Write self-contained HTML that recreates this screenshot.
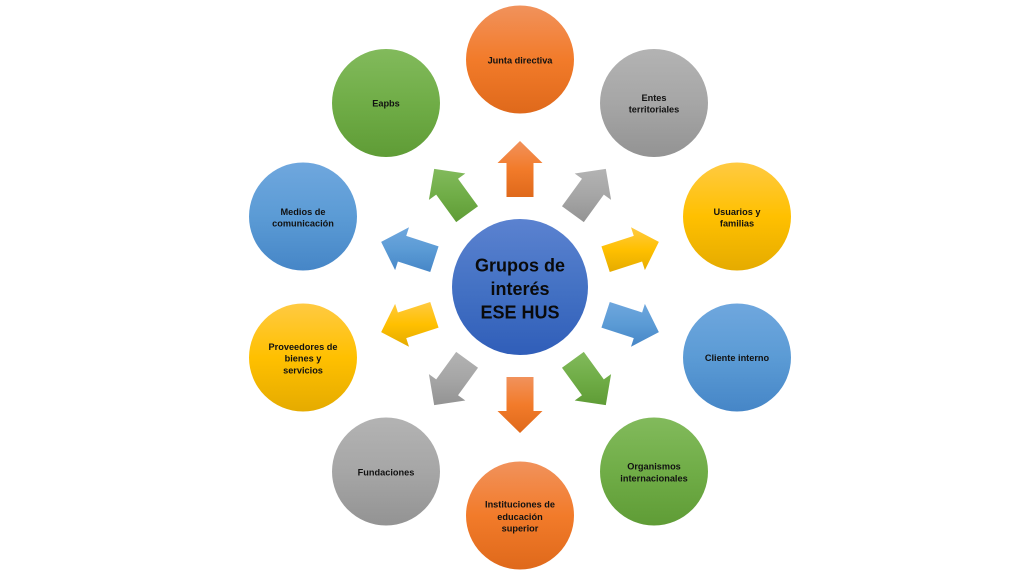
<!DOCTYPE html>
<html><head><meta charset="utf-8"><style>
html,body{margin:0;padding:0;background:#fff;}
svg{display:block;}
text{font-family:"Liberation Sans",sans-serif;font-weight:bold;fill:#111;text-anchor:middle;}
.s{font-size:9.2px;}
.b{font-size:18px;fill:#0a0a0a;}
</style></head><body>
<svg width="1024" height="576" viewBox="0 0 1024 576" xmlns="http://www.w3.org/2000/svg">
<defs>
<linearGradient id="go" x1="0" y1="0" x2="0" y2="1"><stop offset="0" stop-color="#f1925c"/><stop offset="0.5" stop-color="#f27b2a"/><stop offset="1" stop-color="#df691b"/></linearGradient>
<linearGradient id="gg" x1="0" y1="0" x2="0" y2="1"><stop offset="0" stop-color="#b3b3b3"/><stop offset="0.5" stop-color="#a6a6a6"/><stop offset="1" stop-color="#939393"/></linearGradient>
<linearGradient id="gy" x1="0" y1="0" x2="0" y2="1"><stop offset="0" stop-color="#ffca42"/><stop offset="0.5" stop-color="#ffc000"/><stop offset="1" stop-color="#e5ab00"/></linearGradient>
<linearGradient id="gb" x1="0" y1="0" x2="0" y2="1"><stop offset="0" stop-color="#6fa7de"/><stop offset="0.5" stop-color="#5b9bd5"/><stop offset="1" stop-color="#4686c7"/></linearGradient>
<linearGradient id="gn" x1="0" y1="0" x2="0" y2="1"><stop offset="0" stop-color="#82ba5c"/><stop offset="0.5" stop-color="#70ad47"/><stop offset="1" stop-color="#5f9c36"/></linearGradient>
<linearGradient id="gc" x1="0" y1="0" x2="0" y2="1"><stop offset="0" stop-color="#5b82d0"/><stop offset="0.5" stop-color="#4472c4"/><stop offset="1" stop-color="#305eb9"/></linearGradient>
</defs>

<!-- arrows -->
<polygon fill="url(#go)" points="506.5,197 506.5,163 497.5,163 520,141 542.5,163 533.5,163 533.5,197"/>
<polygon fill="url(#gg)" points="561.98,206.25 581.97,178.74 574.69,173.45 605.82,168.89 611.09,199.91 603.81,194.62 583.82,222.13"/>
<polygon fill="url(#gy)" points="601.43,246.35 633.77,235.84 630.99,227.28 658.86,241.89 644.89,270.08 642.11,261.52 609.77,272.03"/>
<polygon fill="url(#gb)" points="609.77,301.97 642.11,312.48 644.89,303.92 658.86,332.11 630.99,346.72 633.77,338.16 601.43,327.65"/>
<polygon fill="url(#gn)" points="583.82,351.87 603.81,379.38 611.09,374.09 605.82,405.11 574.69,400.55 581.97,395.26 561.98,367.75"/>
<polygon fill="url(#go)" points="533.5,377 533.5,411 542.5,411 520,433 497.5,411 506.5,411 506.5,377"/>
<polygon fill="url(#gg)" points="478.02,367.75 458.03,395.26 465.31,400.55 434.18,405.11 428.91,374.09 436.19,379.38 456.18,351.87"/>
<polygon fill="url(#gy)" points="430.23,301.97 397.89,312.48 395.11,303.92 381.14,332.11 409.01,346.72 406.23,338.16 438.57,327.65"/>
<polygon fill="url(#gb)" points="438.57,246.35 406.23,235.84 409.01,227.28 381.14,241.89 395.11,270.08 397.89,261.52 430.23,272.03"/>
<polygon fill="url(#gn)" points="478.02,206.25 458.03,178.74 465.31,173.45 434.18,168.89 428.91,199.91 436.19,194.62 456.18,222.13"/>

<!-- center -->
<circle cx="520" cy="287" r="68" fill="url(#gc)"/>
<text class="b" x="520" y="271.5">Grupos de</text>
<text class="b" x="520" y="295">interés</text>
<text class="b" x="520" y="318.5">ESE HUS</text>

<!-- outer circles -->
<circle cx="520" cy="59.5" r="54" fill="url(#go)"/>
<text class="s" x="520" y="63.3">Junta directiva</text>

<circle cx="654" cy="103" r="54" fill="url(#gg)"/>
<text class="s" x="654" y="101">Entes</text>
<text class="s" x="654" y="112.6">territoriales</text>

<circle cx="737" cy="216.5" r="54" fill="url(#gy)"/>
<text class="s" x="737" y="215">Usuarios y</text>
<text class="s" x="737" y="226.6">familias</text>

<circle cx="737" cy="357.5" r="54" fill="url(#gb)"/>
<text class="s" x="737" y="361">Cliente interno</text>

<circle cx="654" cy="471.5" r="54" fill="url(#gn)"/>
<text class="s" x="654" y="469.3">Organismos</text>
<text class="s" x="654" y="481.6">internacionales</text>

<circle cx="520" cy="515.5" r="54" fill="url(#go)"/>
<text class="s" x="520" y="507.6">Instituciones de</text>
<text class="s" x="520" y="520">educación</text>
<text class="s" x="520" y="531.6">superior</text>

<circle cx="386" cy="471.5" r="54" fill="url(#gg)"/>
<text class="s" x="386" y="475.6">Fundaciones</text>

<circle cx="303" cy="357.5" r="54" fill="url(#gy)"/>
<text class="s" x="303" y="350">Proveedores de</text>
<text class="s" x="303" y="361.6">bienes y</text>
<text class="s" x="303" y="373.3">servicios</text>

<circle cx="303" cy="216.5" r="54" fill="url(#gb)"/>
<text class="s" x="303" y="215">Medios de</text>
<text class="s" x="303" y="226.6">comunicación</text>

<circle cx="386" cy="103" r="54" fill="url(#gn)"/>
<text class="s" x="386" y="106.6">Eapbs</text>
</svg>
</body></html>
